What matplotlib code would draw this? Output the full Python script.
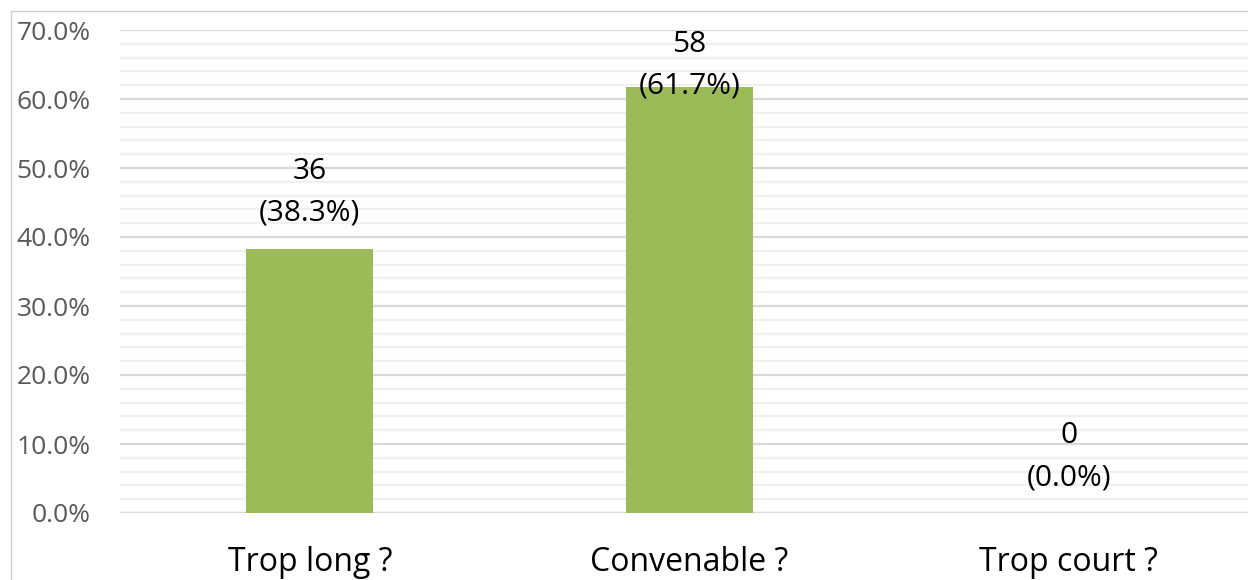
import matplotlib.pyplot as plt
from matplotlib.patches import Rectangle
from matplotlib.ticker import MultipleLocator, PercentFormatter

categories = ["Trop long ?", "Convenable ?", "Trop court ?"]
counts = [36, 58, 0]
percents = [38.3, 61.7, 0.0]

bar_col = "#9BBB59"
major_col = "#d9d9d9"
minor_col = "#f0f0f0"
plt.rcParams['font.family'] = ['Open Sans', 'DejaVu Sans']

fig = plt.figure(figsize=(12.48, 5.8), dpi=100)
W, H = 1248, 580
# axes runs a bit past the right edge, as in the source image
ax = fig.add_axes([120 / W, 67 / H, 1138.5 / W, 483 / H])

x = list(range(len(categories)))
ax.bar(x, percents, width=0.335, color=bar_col, zorder=3)

ax.set_xlim(-0.5, 2.5)
ax.set_ylim(0, 70)
ax.yaxis.set_major_locator(MultipleLocator(10))
ax.yaxis.set_minor_locator(MultipleLocator(2))
ax.yaxis.set_major_formatter(PercentFormatter(decimals=1))
ax.grid(axis='y', which='major', color=major_col, lw=1.6, zorder=1)
ax.grid(axis='y', which='minor', color=minor_col, lw=1.6, zorder=0)
ax.set_axisbelow(True)
for s in ax.spines.values():
    s.set_visible(False)
ax.axhline(0, color=major_col, lw=1.6, zorder=2)

ax.tick_params(axis='y', which='both', length=0, pad=21, labelsize=19, labelcolor='#595959')
ax.tick_params(axis='x', length=0, pad=24, labelsize=23, labelcolor='black')
ax.set_xticks(x)
ax.set_xticklabels(categories)

for xi, c, p in zip(x, counts, percents):
    y = min(p + 8.2, 64.9)
    ax.text(xi, y, f"{c}\n({p:.1f}%)", ha='center', va='center',
            fontsize=21.5, color='black', linespacing=1.6, zorder=4)

fig.patches.append(Rectangle((11 / W, -0.1), 1.2, (H - 11) / H + 0.1,
                             transform=fig.transFigure, fill=False,
                             edgecolor='#d0d0d0', lw=1))

fig.savefig("out.png", dpi=100)
